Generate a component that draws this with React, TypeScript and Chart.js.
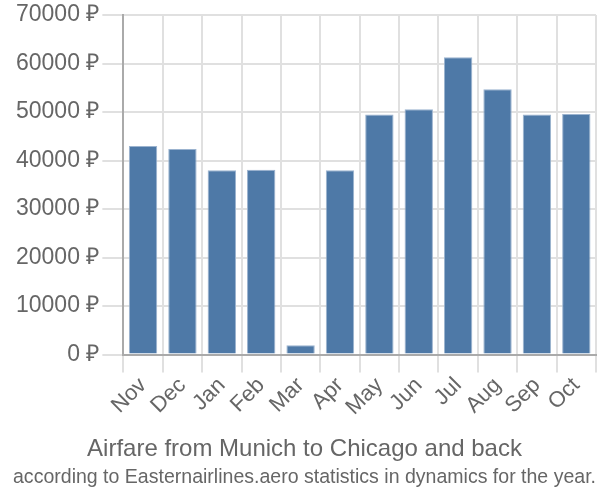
import React, { useEffect, useRef } from "react";
import { Chart, registerables } from "chart.js";

Chart.register(...registerables);

const months = ["Nov", "Dec", "Jan", "Feb", "Mar", "Apr", "May", "Jun", "Jul", "Aug", "Sep", "Oct"];
const prices = [43000, 42400, 38000, 38100, 1900, 38000, 49500, 50600, 61300, 54700, 49500, 49600];
const yMax = 70000;
const yStep = 10000;
const titleText = "Airfare from Munich to Chicago and back";
const subtitleText = "according to Easternairlines.aero statistics in dynamics for the year.";

export default function App() {
  const ref = useRef<HTMLCanvasElement | null>(null);
  useEffect(() => {
    if (!ref.current) return;
    const font = "'Liberation Sans', Arial, sans-serif";
    const chart = new Chart(ref.current, {
      type: "bar",
      data: {
        labels: months,
        datasets: [
          {
            data: prices,
            backgroundColor: "#4e79a7",
            borderColor: "#9bb3cf",
            borderWidth: 1,
            barPercentage: 0.9,
            categoryPercentage: 0.8,
          },
        ],
      },
      options: {
        animation: false,
        responsive: false,
        layout: { padding: { left: 13, right: 4, top: 2, bottom: 10 } },
        plugins: {
          legend: { display: false },
          tooltip: { enabled: false },
          // bottom-most line (subtitle text) uses the title plugin, line above it uses subtitle plugin
          title: {
            display: true,
            text: subtitleText,
            position: "bottom",
            color: "#666",
            font: { family: font, size: 20.5, weight: "normal" },
            padding: { top: 2, bottom: 0 },
          },
          subtitle: {
            display: true,
            text: titleText,
            position: "bottom",
            color: "#666",
            font: { family: font, size: 24, weight: "normal" },
            padding: { top: 14, bottom: 0 },
          },
        },
        scales: {
          x: {
            grid: { color: "#e0e0e0", lineWidth: 2, tickLength: 18, offset: true },
            border: { color: "#aaa", width: 2 },
            ticks: {
              color: "#666",
              font: { family: font, size: 22 },
              maxRotation: 45,
              minRotation: 45,
              autoSkip: false,
              padding: 0,
            },
          },
          y: {
            min: 0,
            max: yMax,
            grid: { color: "#e0e0e0", lineWidth: 2, tickLength: 21 },
            border: { color: "#aaa", width: 2 },
            ticks: {
              stepSize: yStep,
              color: "#666",
              font: { family: font, size: 23, lineHeight: 1.05 },
              padding: 3,
              callback: (v: any) => `${v} ₽`,
            },
          },
        },
      },
    });
    return () => chart.destroy();
  }, []);
  return (
    <div style={{ position: "fixed", left: 0, top: 0, width: 600, height: 500, background: "#fff" }}>
      <canvas ref={ref} width={600} height={500} style={{ width: 600, height: 500 }} />
    </div>
  );
}
